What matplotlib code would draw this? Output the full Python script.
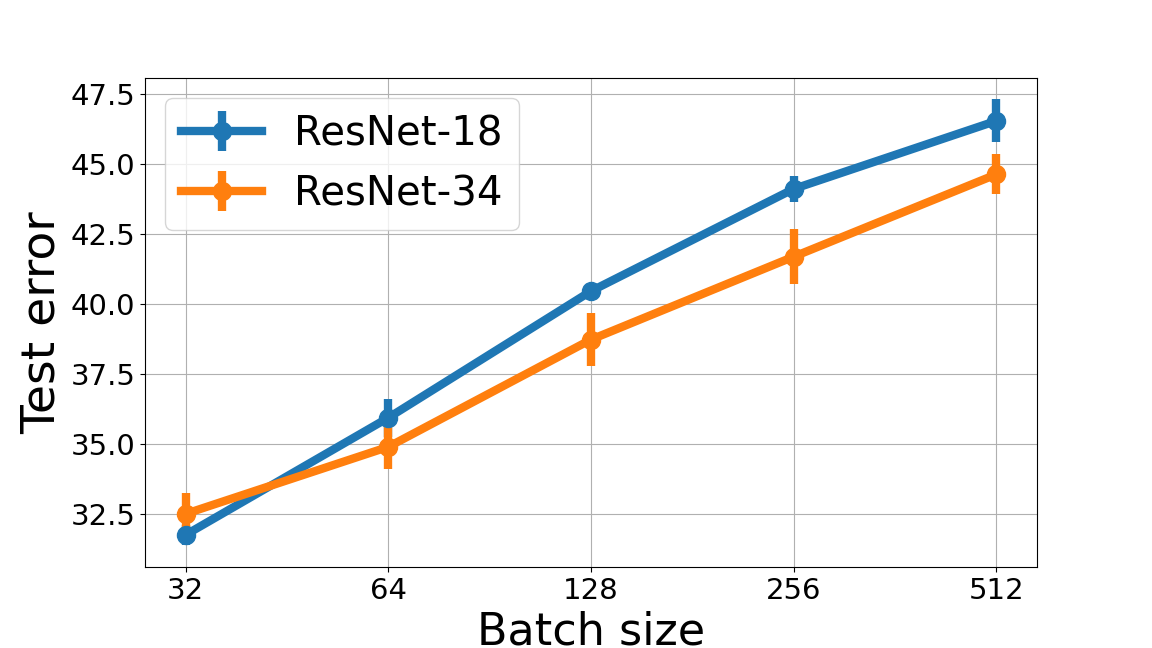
import matplotlib
matplotlib.use("Agg")
import matplotlib.pyplot as plt

batch_sizes = [32, 64, 128, 256, 512]

resnet18_err = [31.75, 35.93, 40.45, 44.1, 46.53]
resnet18_std = [0.35, 0.68, 0.2, 0.45, 0.77]

resnet34_err = [32.5, 34.89, 38.72, 41.68, 44.62]
resnet34_std = [0.75, 0.78, 0.95, 0.98, 0.71]

fig = plt.figure(figsize=(11.52, 6.48), dpi=100)
ax = fig.add_axes([0.126, 0.125, 0.774, 0.755])

ax.errorbar(batch_sizes, resnet18_err, yerr=resnet18_std, marker='o', markersize=13,
            linewidth=6, elinewidth=6, color='#1f77b4', label='ResNet-18')
ax.errorbar(batch_sizes, resnet34_err, yerr=resnet34_std, marker='o', markersize=13,
            linewidth=6, elinewidth=6, color='#ff7f0e', label='ResNet-34')

ax.set_xscale('log', base=2)
ax.set_xticks(batch_sizes)
ax.set_xticklabels([str(b) for b in batch_sizes])
ax.minorticks_off()
ax.set_ylim(30.6, 48.07)
ax.tick_params(labelsize=21)
ax.set_xlabel('Batch size', fontsize=32)
ax.set_ylabel('Test error', fontsize=34)
ax.grid(True)
ax.legend(fontsize=29, loc='upper left')

fig.savefig('out.png', dpi=100)
